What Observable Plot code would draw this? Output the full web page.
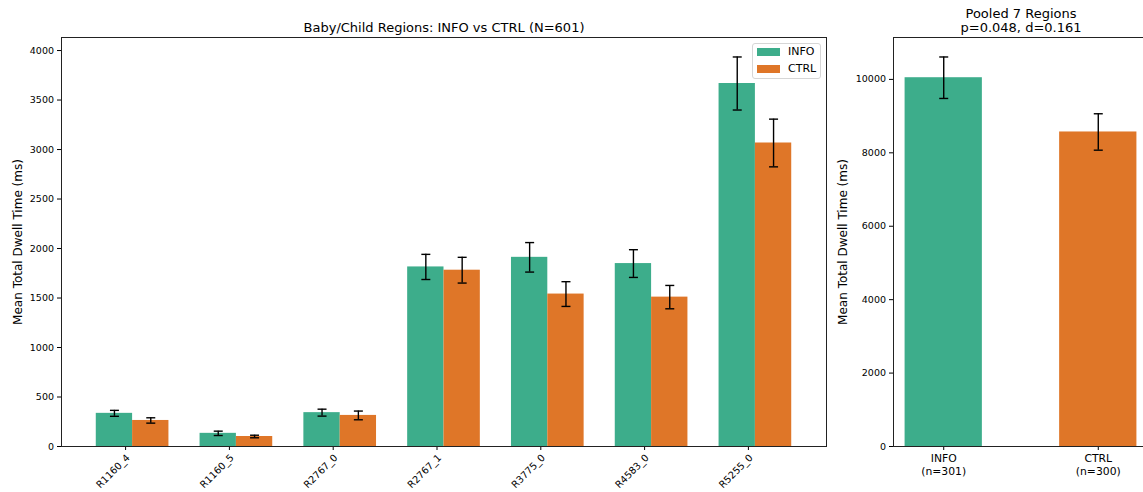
<!DOCTYPE html>
<html><head><meta charset="utf-8">
<script src="https://cdn.jsdelivr.net/npm/d3@7"></script>
<script src="https://cdn.jsdelivr.net/npm/@observablehq/plot@0.6"></script>
<style>
html,body{margin:0;padding:0;background:#fff;overflow:hidden;}
#wrap{position:relative;width:1143px;height:492px;overflow:hidden;font-family:"DejaVu Sans",sans-serif;background:#fff;}
#wrap svg{position:absolute;top:0;font-family:"DejaVu Sans",sans-serif;background:transparent;}
#legend{position:absolute;left:752px;top:43px;width:67px;height:34px;border:1px solid #d6d6d6;border-radius:3px;background:rgba(255,255,255,0.85);font-size:11px;color:#000;}
#legend .sw{position:absolute;left:4px;width:23px;height:8px;}
#legend .lb{position:absolute;left:35px;line-height:12px;}
</style></head>
<body><div id="wrap"></div>
<script>
const regions = ["R1160_4","R1160_5","R2767_0","R2767_1","R3775_0","R4583_0","R5255_0"];
const groups = ["INFO","CTRL"];
const infoMean = [335, 133, 342, 1814, 1911, 1848, 3667];
const infoSE   = [30, 22, 35, 127, 149, 140, 268];
const ctrlMean = [263, 101, 314, 1781, 1540, 1509, 3066];
const ctrlSE   = [27, 13, 44, 130, 125, 118, 241];
const pooledMean = [10046, 8568];
const pooledSE   = [565, 496];
const pooledN    = [301, 300];
const colors = ["#3dad8b", "#df7628"];
const yLabel = "Mean Total Dwell Time (ms)";
const leftTitle = "Baby/Child Regions: INFO vs CTRL (N=601)";
const rightTitle = "Pooled 7 Regions\np=0.048, d=0.161";

const barW = 0.35;
const rows = [];
regions.forEach((r, i) => {
  rows.push({i, region: r, group: "INFO", mean: infoMean[i], se: infoSE[i], x1: i - barW, x2: i, cx: i - barW/2});
  rows.push({i, region: r, group: "CTRL", mean: ctrlMean[i], se: ctrlSE[i], x1: i, x2: i + barW, cx: i + barW/2});
});
const pooled = groups.map((g, i) => ({i, group: g, mean: pooledMean[i], se: pooledSE[i], n: pooledN[i], x1: i - 0.25, x2: i + 0.25, cx: i}));

const cap = {draw(ctx, size) { const w = Math.sqrt(size / Math.PI); ctx.moveTo(-w, 0); ctx.lineTo(w, 0); }};
function caps(data) {
  return data.flatMap(d => [{cx: d.cx, y: d.mean - d.se}, {cx: d.cx, y: d.mean + d.se}]);
}
const color = {domain: groups, range: colors};
const fmt = d3.format("d");

const leftMax = d3.max(rows, d => d.mean + d.se) * 1.05;
const left = Plot.plot({
  width: 840, height: 492,
  marginLeft: 61, marginRight: 14, marginTop: 37, marginBottom: 46,
  style: {fontSize: "9.5px", fontFamily: "DejaVu Sans, sans-serif", background: "transparent", color: "#000"},
  x: {domain: [-0.685, 6.685]},
  y: {domain: [0, leftMax]},
  color,
  marks: [
    Plot.rect(rows, {x1: "x1", x2: "x2", y1: () => 0, y2: "mean", fill: "group"}),
    Plot.ruleX(rows, {x: "cx", y1: d => d.mean - d.se, y2: d => d.mean + d.se, stroke: "#000", strokeWidth: 1.4}),
    Plot.dot(caps(rows), {x: "cx", y: "y", symbol: cap, r: 4.5, stroke: "#000", fill: "none", strokeWidth: 1.4}),
    Plot.axisY({ticks: d3.range(0, 4001, 500), tickFormat: fmt, tickSize: 4, tickPadding: 3.5, label: null}),
    Plot.axisX({ticks: d3.range(regions.length), tickFormat: i => regions[i], tickSize: 4, tickPadding: 3, tickRotate: -45, textAnchor: "end", lineAnchor: "top", dx: -7, fontSize: 9.8, label: null}),
    Plot.frame({stroke: "#222", strokeWidth: 1}),
    Plot.text([leftTitle], {frameAnchor: "top", dy: -10, fontSize: 13, lineAnchor: "middle", fill: "#000"}),
    Plot.text([yLabel], {frameAnchor: "left", dx: -43, rotate: -90, fontSize: 12, lineAnchor: "middle", textAnchor: "middle", fill: "#000"})
  ]
});
left.style.left = "0px";

const rightMax = d3.max(pooled, d => d.mean + d.se) * 1.05;
const right = Plot.plot({
  width: 340, height: 492,
  marginLeft: 73, marginRight: 12, marginTop: 37, marginBottom: 46,
  style: {fontSize: "9.5px", fontFamily: "DejaVu Sans, sans-serif", background: "transparent", color: "#000"},
  x: {domain: [-0.325, 1.325]},
  y: {domain: [0, rightMax]},
  color,
  marks: [
    Plot.rect(pooled, {x1: "x1", x2: "x2", y1: () => 0, y2: "mean", fill: "group"}),
    Plot.ruleX(pooled, {x: "cx", y1: d => d.mean - d.se, y2: d => d.mean + d.se, stroke: "#000", strokeWidth: 1.4}),
    Plot.dot(caps(pooled), {x: "cx", y: "y", symbol: cap, r: 4.5, stroke: "#000", fill: "none", strokeWidth: 1.4}),
    Plot.axisY({ticks: d3.range(0, 10001, 2000), tickFormat: fmt, tickSize: 4, tickPadding: 3.5, label: null}),
    Plot.axisX({ticks: [0, 1], tickFormat: i => `${groups[i]}\n(n=${pooledN[i]})`, tickSize: 4, tickPadding: 3, lineHeight: 1.15, fontSize: 10.8, label: null}),
    Plot.frame({stroke: "#222", strokeWidth: 1}),
    Plot.text([rightTitle], {frameAnchor: "top", dy: -17, fontSize: 13, lineAnchor: "middle", lineHeight: 1.08, fill: "#000"}),
    Plot.text([yLabel], {frameAnchor: "left", dx: -50, rotate: -90, fontSize: 12, lineAnchor: "middle", textAnchor: "middle", fill: "#000"})
  ]
});
right.style.left = "820px";

const wrap = document.getElementById("wrap");
wrap.appendChild(left);
wrap.appendChild(right);

const legend = document.createElement("div");
legend.id = "legend";
groups.forEach((g, k) => {
  const sw = document.createElement("div");
  sw.className = "sw"; sw.style.top = (4 + k * 17) + "px"; sw.style.background = colors[k];
  const lb = document.createElement("div");
  lb.className = "lb"; lb.style.top = (2 + k * 17) + "px"; lb.textContent = g;
  legend.appendChild(sw); legend.appendChild(lb);
});
wrap.appendChild(legend);
</script></body></html>
